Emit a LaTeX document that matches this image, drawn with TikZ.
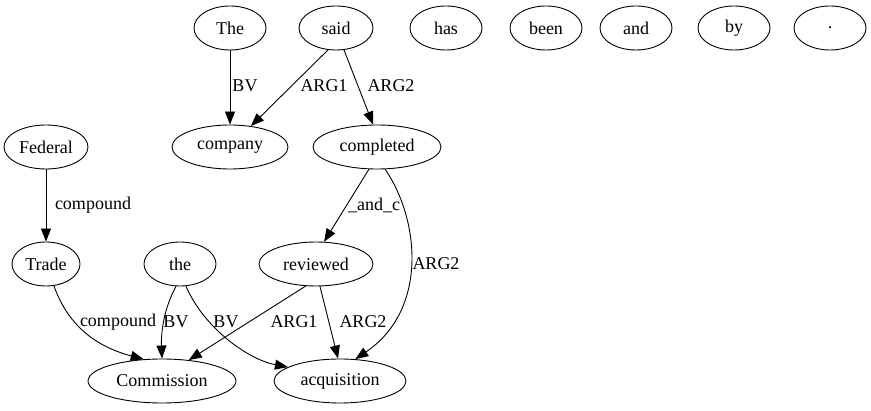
\documentclass[tikz,border=0pt]{standalone}
\usepackage{fontspec}
\setmainfont{Liberation Serif}
\usetikzlibrary{shapes.geometric,arrows.meta}
\begin{document}
\begin{tikzpicture}[x=1pt,y=-1pt,
  word/.style={draw,ellipse,line width=0.9pt,inner sep=0pt,minimum height=44pt,font=\fontsize{18}{20}\selectfont},
  edge/.style={draw,-{Triangle[length=13pt,width=10pt]},line width=0.9pt},
  lbl/.style={inner sep=0pt,font=\fontsize{18}{20}\selectfont}]
\useasboundingbox (0,0) rectangle (871,411);
% top row
\node[word,minimum width=72pt] (The) at (230,28) {The};
\node[word,minimum width=74pt] (said) at (336,28) {said};
\node[word,minimum width=72pt] (has) at (446,28) {has};
\node[word,minimum width=72pt] (been) at (546,28) {been};
\node[word,minimum width=72pt] (and) at (636,28) {and};
\node[word,minimum width=72pt] (by) at (734,28) {by};
\node[word,minimum width=72pt] (dot) at (830,28) {.};
% second row
\node[word,minimum width=84pt] (Federal) at (46,147) {Federal};
\node[word,minimum width=116pt] (company) at (230,147) {company};
\node[word,minimum width=128pt] (completed) at (377,147) {completed};
% third row
\node[word,minimum width=68pt] (Trade) at (46,264) {Trade};
\node[word,minimum width=72pt] (the) at (180,264) {the};
\node[word,minimum width=114pt] (reviewed) at (316,264) {reviewed};
% bottom row
\node[word,minimum width=148pt] (Commission) at (162,381) {Commission};
\node[word,minimum width=132pt] (acquisition) at (340,381) {acquisition};
% edges
\draw[edge] (The) -- (company);
\draw[edge] (said.250) -- (company.45);
\draw[edge] (said.290) -- (completed.100);
\draw[edge] (Federal) -- (Trade);
\draw[edge] (completed.250) -- (reviewed.70);
\draw[edge] (completed.290) .. controls (420,220) and (428,310) .. (acquisition.55);
\draw[edge] (Trade.290) .. controls (66,320) and (90,345) .. (Commission.130);
\draw[edge] (the.260) .. controls (163,310) and (161,335) .. (Commission.90);
\draw[edge] (the.285) .. controls (205,330) and (250,360) .. (acquisition.165);
\draw[edge] (reviewed.245) -- (Commission.38);
\draw[edge] (reviewed.280) -- (acquisition.95);
% edge labels
\node[lbl] (l1) at (245,86) {BV};
\node[lbl] (l2) at (324,86) {ARG1};
\node[lbl] (l3) at (391,86) {ARG2};
\node[lbl] (l4) at (93,205) {compound};
\node[lbl] (l5) at (374,205) {\_and\_c};
\node[lbl] (l6) at (436,264) {ARG2};
\node[lbl] (l7) at (118,322) {compound};
\node[lbl] (l8) at (176,322) {BV};
\node[lbl] (l9) at (226,322) {BV};
\node[lbl] (l10) at (294,322) {ARG1};
\node[lbl] (l11) at (363,322) {ARG2};
\end{tikzpicture}
\end{document}
